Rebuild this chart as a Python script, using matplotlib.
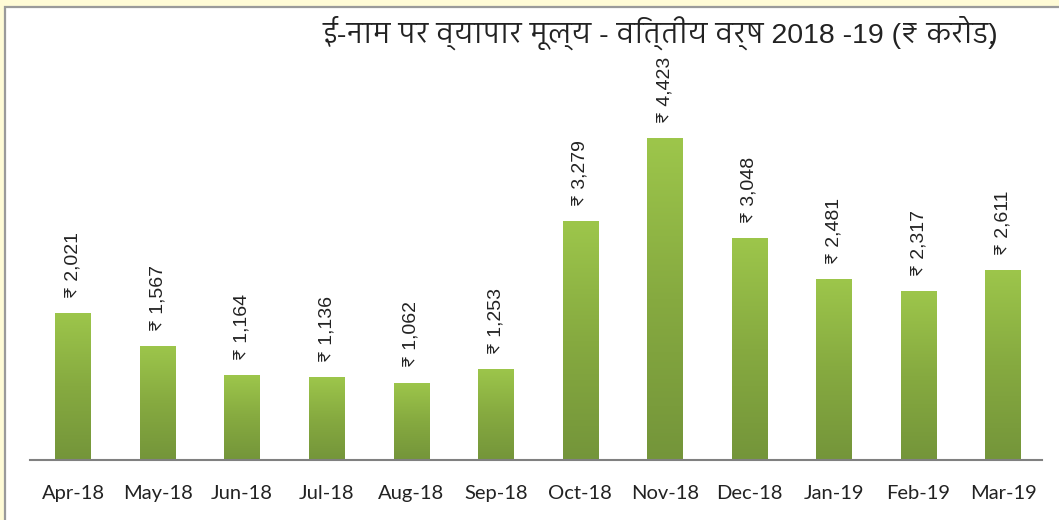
import numpy as np
import matplotlib
matplotlib.use("Agg")
import matplotlib.pyplot as plt
from matplotlib import font_manager as fm
from matplotlib.ft2font import FT2Font
from matplotlib.patches import Rectangle

months = ["Apr-18", "May-18", "Jun-18", "Jul-18", "Aug-18", "Sep-18",
          "Oct-18", "Nov-18", "Dec-18", "Jan-19", "Feb-19", "Mar-19"]
values = [2021, 1567, 1164, 1136, 1062, 1253, 3279, 4423, 3048, 2481, 2317, 2611]
title = "ई-नाम पर व्यापार मूल्य - वित्तीय वर्ष 2018 -19 (₹ करोड़)"


def fonts_with(ch):
    names = []
    for f in fm.fontManager.ttflist:
        try:
            if ord(ch) in FT2Font(f.fname).get_charmap():
                if f.name not in names:
                    names.append(f.name)
        except Exception:
            pass
    return names


def rank(name):
    n = name.lower()
    score = 0
    if "mono" in n or "code" in n or "serif" in n:
        score += 10
    if "devanagari" in n or "lohit" in n or "mangal" in n:
        score -= 5
    if "sans" in n:
        score -= 2
    return score


deva = sorted(fonts_with("न"), key=rank)
rupee = fonts_with("₹")
title_family = ["Liberation Sans"] + deva[:1] + ["DejaVu Sans"]
label_family = ["Liberation Sans"] + [r for r in sorted(rupee, key=rank) if r != "Liberation Sans"][:1] + ["DejaVu Sans"]

fig = plt.figure(figsize=(10.59, 5.2), dpi=100)
fig.patch.set_facecolor("#FFFBD6")
fig.add_artist(Rectangle((5 / 1059, -0.01), 1.1, 518 / 520, transform=fig.transFigure,
                         facecolor="white", edgecolor="#9A9A9A", linewidth=1.6, zorder=0))

ax = fig.add_axes([30 / 1059, 60 / 520, 1012 / 1059, 440 / 520])
ax.set_facecolor("none")
x = np.arange(len(months))
bars = ax.bar(x, values, width=0.42, color="#8BB043", zorder=2)

grad = np.linspace(0, 1, 256).reshape(-1, 1)
cmap = matplotlib.colors.LinearSegmentedColormap.from_list("g", ["#74953A", "#86AA40", "#9DC64B"])
for b in bars:
    x0, w, h = b.get_x(), b.get_width(), b.get_height()
    im = ax.imshow(grad, extent=[x0, x0 + w, 0, h], origin="lower", aspect="auto",
                   cmap=cmap, zorder=3)
    im.set_clip_path(b)

ax.set_xlim(-0.51, 11.46)
ax.set_ylim(0, 6044)

for xi, v in zip(x, values):
    ax.annotate(f"₹ {v:,}", (xi, v), xytext=(0, 11), textcoords="offset points",
                rotation=90, ha="center", va="bottom", fontsize=14,
                family=label_family, color="#222222", zorder=4)

ax.set_xticks(x)
ax.set_xticklabels(months, family=["Lato", "DejaVu Sans"], fontsize=14.5, color="#222222")
ax.tick_params(axis="x", length=0, pad=18)
ax.set_yticks([])
for s in ["top", "right", "left"]:
    ax.spines[s].set_visible(False)
ax.spines["bottom"].set_color("#808080")
ax.spines["bottom"].set_linewidth(1.5)
ax.spines["bottom"].set_zorder(5)

fig.text(660 / 1059, 1 - 33 / 520, title, ha="center", va="center",
         fontsize=20.5, family=title_family, color="#222222")

fig.savefig("out.png", dpi=100, facecolor=fig.get_facecolor())
